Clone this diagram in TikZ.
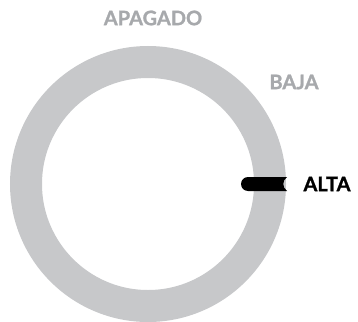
\documentclass[tikz,border=0pt]{standalone}
\usepackage{fontspec}
\setmainfont{Lato}[BoldFeatures={FakeBold=1.2}]
\definecolor{ringgray}{RGB}{199,200,202}
\definecolor{textgray}{RGB}{167,169,172}
\tikzset{lbl/.style={font=\fontsize{20}{22}\selectfont\bfseries, inner sep=0pt, anchor=center}}
\begin{document}
\begin{tikzpicture}[x=1pt,y=-1pt]
\useasboundingbox (0,0) rectangle (358,321);
\clip (0,0) rectangle (358,321);
\coordinate (c) at (148,184);
\draw[ringgray, line width=32pt] (c) circle[radius=122];
\fill[black] (248,177) -- (287,177) .. controls (282,181) and (282,187) .. (287,191) -- (248,191) arc[start angle=90, end angle=270, radius=7] -- cycle;
\node[lbl, text=textgray] (apagado) at (153,18) {APAGADO};
\node[lbl, text=textgray] (baja) at (294,82) {BAJA};
\node[lbl, text=black] (alta) at (327,184) {ALTA};
\end{tikzpicture}
\end{document}
